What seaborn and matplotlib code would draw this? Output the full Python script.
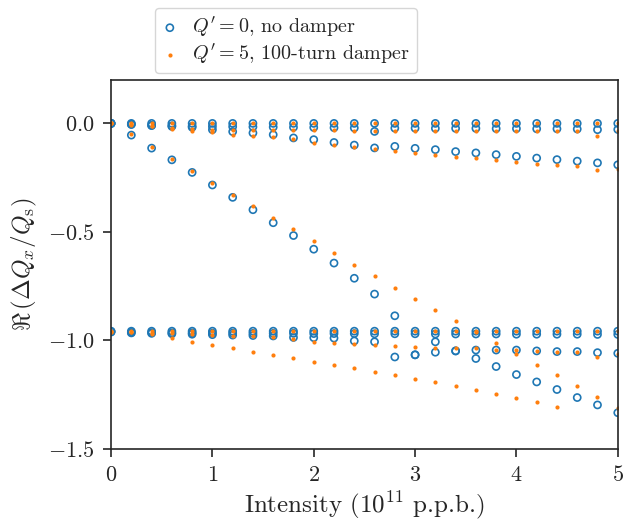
import numpy as np
import pandas as pd
import matplotlib
matplotlib.use("Agg")
import matplotlib.pyplot as plt
import seaborn as sns

sns.set_style("ticks")
plt.rcParams["font.family"] = ["cmr10", "DejaVu Serif"]
plt.rcParams["mathtext.fontset"] = "cm"
plt.rcParams["axes.formatter.use_mathtext"] = True
plt.rcParams["axes.unicode_minus"] = True

nan = np.nan

# Intensity in 1e11 p.p.b.
intensity = [0.0, 0.2, 0.4, 0.6, 0.8, 1.0, 1.2, 1.4, 1.6, 1.8, 2.0, 2.2, 2.4,
             2.6, 2.8, 3.0, 3.2, 3.4, 3.6, 3.8, 4.0, 4.2, 4.4, 4.6, 4.8, 5.0]

# Q' = 0, no damper  (real part of mode tune shifts)
nd_top_a = [0.0, 0.0, 0.0, 0.0, 0.0, 0.0, 0.0, 0.0, 0.0, 0.0, 0.0, 0.0, 0.0,
            0.0, 0.0, 0.0, 0.0, 0.0, 0.0, 0.0, 0.0, 0.0, 0.0, 0.0, 0.0, 0.0]
nd_top_b = [0.0, -0.004, -0.009, -0.011, -0.013, -0.014, -0.015, -0.016, -0.017,
            -0.018, -0.019, -0.020, -0.021, -0.037, -0.022, -0.022, -0.023, -0.023,
            -0.023, -0.024, -0.024, -0.025, -0.025, -0.026, -0.029, -0.028]
nd_top_c = [0.0, -0.005, -0.010, -0.014, -0.018, -0.029, -0.038, -0.044, -0.052,
            -0.067, -0.075, -0.088, -0.100, -0.113, -0.106, -0.115, -0.121, -0.130,
            -0.136, -0.144, -0.152, -0.160, -0.167, -0.174, -0.182, -0.191]
nd_steep = [0.0, -0.054, -0.114, -0.168, -0.226, -0.284, -0.341, -0.398, -0.458,
            -0.517, -0.580, -0.644, -0.714, -0.787, -0.887, -1.067, -1.055, -1.049,
            -1.084, -1.121, -1.158, -1.192, -1.227, -1.264, -1.298, -1.334]
nd_low_a = [-0.958, -0.958, -0.958, -0.958, -0.958, -0.958, -0.958, -0.958, -0.958,
            -0.958, -0.958, -0.958, -0.958, -0.958, -0.958, -0.958, -0.958, -0.958,
            -0.958, -0.958, -0.958, -0.958, -0.958, -0.958, -0.958, -0.958]
nd_low_b = [-0.962, -0.964, -0.965, -0.966, -0.966, -0.967, -0.967, -0.968, -0.968,
            -0.968, -0.969, -0.969, -0.969, -0.970, -0.970, -0.970, -0.971, -0.971,
            -0.971, -0.971, -0.972, -0.972, -0.972, -0.972, -0.973, -0.973]
nd_low_c = [-0.960, -0.966, -0.968, -0.970, -0.972, -0.974, -0.976, -0.978, -0.980,
            -0.987, -0.988, -0.990, -1.003, -1.007, -1.077, -1.067, -1.007, -1.049,
            -1.045, -1.045, -1.045, -1.049, -1.052, -1.052, -1.057, -1.060]

# Q' = 5, 100-turn damper
dm_top_a = [0.0, 0.0, 0.0, 0.0, 0.0, 0.0, 0.0, 0.0, 0.0, 0.0, 0.0, 0.0, 0.0,
            0.0, 0.0, 0.0, 0.0, 0.0, 0.0, 0.0, 0.0, 0.0, 0.0, 0.0, 0.0, 0.0]
dm_top_b = [0.0, -0.004, -0.012, -0.024, -0.028, -0.030, -0.030, -0.031, -0.031,
            -0.031, -0.032, -0.032, -0.033, -0.033, -0.034, -0.034, -0.034, -0.034,
            -0.034, -0.034, -0.034, -0.034, -0.035, -0.035, -0.057, -0.036]
dm_top_c = [0.0, -0.006, -0.013, -0.022, -0.034, -0.041, -0.052, -0.057, -0.061,
            -0.072, -0.090, -0.098, -0.110, -0.118, -0.125, -0.136, -0.146, -0.154,
            -0.160, -0.170, -0.177, -0.185, -0.190, -0.197, -0.214, -0.212]
dm_steep = [0.0, -0.050, -0.110, -0.163, -0.220, -0.275, -0.328, -0.383, -0.437,
            -0.489, -0.544, -0.598, -0.651, -0.703, -0.757, -0.808, -0.860, -0.910,
            -0.962, -1.013, -1.064, -1.114, -1.161, -1.210, -1.260, -1.310]
dm_low_a = [-0.958, -0.958, -0.958, -0.958, -0.958, -0.958, -0.958, -0.958, -0.958,
            -0.958, -0.958, -0.958, -0.958, -0.958, -0.958, -0.958, -0.958, -0.958,
            -0.958, -0.958, -0.958, -0.958, -0.958, -0.958, -0.958, -0.958]
dm_low_b = [-0.960, -0.963, -0.966, -0.968, -0.972, -0.975, -0.978, -0.982, -0.987,
            -0.995, -1.007, -1.013, -1.018, -1.021, -1.026, -1.030, -1.037, -1.034,
            -1.034, -1.045, -1.047, -1.049, -1.052, -1.052, -1.075, -1.065]
dm_low_c = [-0.960, -0.962, -0.970, -0.990, -1.007, -1.023, -1.037, -1.052, -1.066,
            -1.081, -1.098, -1.114, -1.127, -1.144, -1.160, -1.177, -1.193, -1.210,
            -1.229, -1.247, -1.267, -1.286, -1.306, nan, nan, nan]

label_nd = r"$Q' = 0$, no damper"
label_dm = r"$Q' = 5$, 100-turn damper"


def to_long(modes):
    frames = [pd.DataFrame({"intensity": intensity, "shift": m}) for m in modes]
    return pd.concat(frames, ignore_index=True).dropna()


df_nd = to_long([nd_top_a, nd_top_b, nd_top_c, nd_steep, nd_low_a, nd_low_b, nd_low_c])
df_dm = to_long([dm_top_a, dm_top_b, dm_top_c, dm_steep, dm_low_a, dm_low_b, dm_low_c])

blue = "#1f77b4"
orange = "#ff7f0e"

fig = plt.figure(figsize=(6.24, 5.23), dpi=100)
ax = fig.add_axes([0.178, 0.142, 0.812, 0.705])

sns.scatterplot(data=df_nd, x="intensity", y="shift", ax=ax, marker="o", s=26,
                color=blue, facecolors="none", edgecolor=blue, linewidth=1.2,
                label=label_nd)
sns.scatterplot(data=df_dm, x="intensity", y="shift", ax=ax, marker="o", s=9,
                color=orange, edgecolor=orange, linewidth=0,
                label=label_dm)

ax.set_xlim(0, 5)
ax.set_ylim(-1.5, 0.2)
ax.set_xticks([0, 1, 2, 3, 4, 5])
ax.set_yticks([0.0, -0.5, -1.0, -1.5])
ax.set_xlabel(r"Intensity ($10^{11}$ p.p.b.)", fontsize=18, labelpad=3)
ax.set_ylabel(r"$\Re\,(\Delta Q_x/Q_\mathrm{s})$", fontsize=18, labelpad=6)
ax.tick_params(labelsize=16, length=6, width=1.2, pad=6)
for sp in ax.spines.values():
    sp.set_linewidth(1.2)

ax.legend(loc="upper left", bbox_to_anchor=(0.248, 0.985),
          bbox_transform=fig.transFigure, borderaxespad=0, fontsize=14.5,
          frameon=True, handlelength=0.8, handletextpad=0.7,
          labelspacing=0.15, borderpad=0.35)

fig.savefig("out.png", dpi=100)
